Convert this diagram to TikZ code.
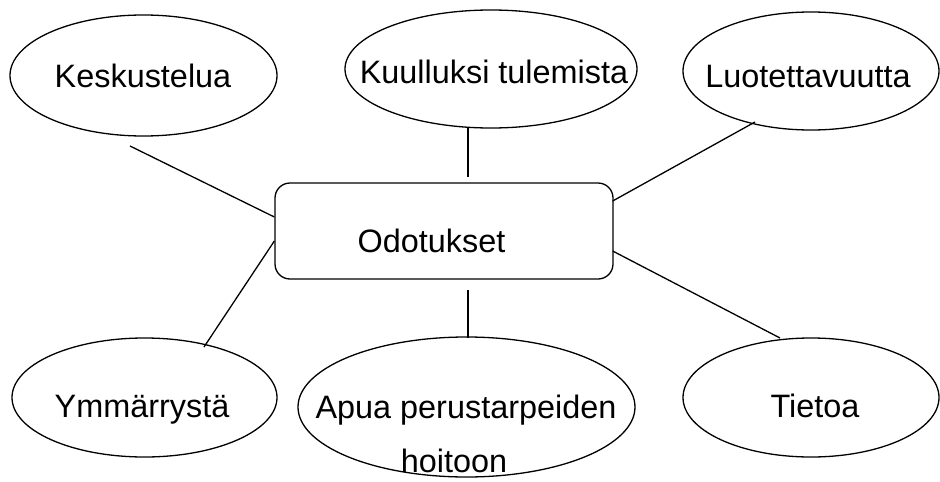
\documentclass[tikz,border=0pt]{standalone}
\usepackage{fontspec}
\setmainfont{Liberation Sans}
\usetikzlibrary{shapes.geometric}
\begin{document}
\begin{tikzpicture}[x=1pt,y=-1pt,
  every node/.style={font=\fontsize{32.4}{54}\selectfont},
  bubble/.style={draw, ellipse, line width=1.3pt, inner sep=0pt},
  centerbox/.style={draw, rectangle, rounded corners=15pt, line width=1.3pt,
    minimum width=338pt, minimum height=96pt, inner sep=0pt},
  lbl/.style={anchor=base, inner sep=0pt},
  link/.style={line width=1.3pt}]
  \useasboundingbox (0,0) rectangle (940,482);

  % central box
  \node[centerbox] (odot) at (444,231) {};
  \node[lbl] (odott) at (431.5,252) {Odotukset};

  % surrounding ellipses
  \node[bubble, minimum width=267pt, minimum height=121pt] (kesk) at (143.5,75.5) {};
  \node[lbl] (keskt) at (143,87) {Keskustelua};

  \node[bubble, minimum width=292pt, minimum height=118pt] (kuul) at (491,69) {};
  \node[lbl] (kuult) at (494,83) {Kuulluksi tulemista};

  \node[bubble, minimum width=256pt, minimum height=118pt] (luot) at (811,71) {};
  \node[lbl] (luott) at (808,87) {Luotettavuutta};

  \node[bubble, minimum width=265pt, minimum height=119pt] (ymm) at (144.5,397.5) {};
  \node[lbl] (ymmt) at (142,417) {Ymmärrystä};

  \node[bubble, minimum width=337pt, minimum height=140pt] (apua) at (466.5,407) {};
  \node[lbl] (apuat1) at (466,418) {Apua perustarpeiden};
  \node[lbl] (apuat2) at (454,472) {hoitoon};

  \node[bubble, minimum width=256pt, minimum height=119pt] (tiet) at (811,397.5) {};
  \node[lbl] (tiett) at (815,417) {Tietoa};

  % connectors
  \draw[link] ([shift={(-13.5,70.5)}]kesk.center) -- ([shift={(0,-14)}]odot.west);
  \draw[link] ([shift={(-23,59)}]kuul.center) -- ([shift={(24,-5)}]odot.north);
  \draw[link] ([shift={(-56,51)}]luot.center) -- ([shift={(-1,-30)}]odot.east);
  \draw[link] ([shift={(59.5,-50.5)}]ymm.center) -- ([shift={(0,10)}]odot.west);
  \draw[link] ([shift={(1.5,-69)}]apua.center) -- ([shift={(24,10)}]odot.south);
  \draw[link] ([shift={(-31,-59.5)}]tiet.center) -- ([shift={(-1,20)}]odot.east);
\end{tikzpicture}
\end{document}
